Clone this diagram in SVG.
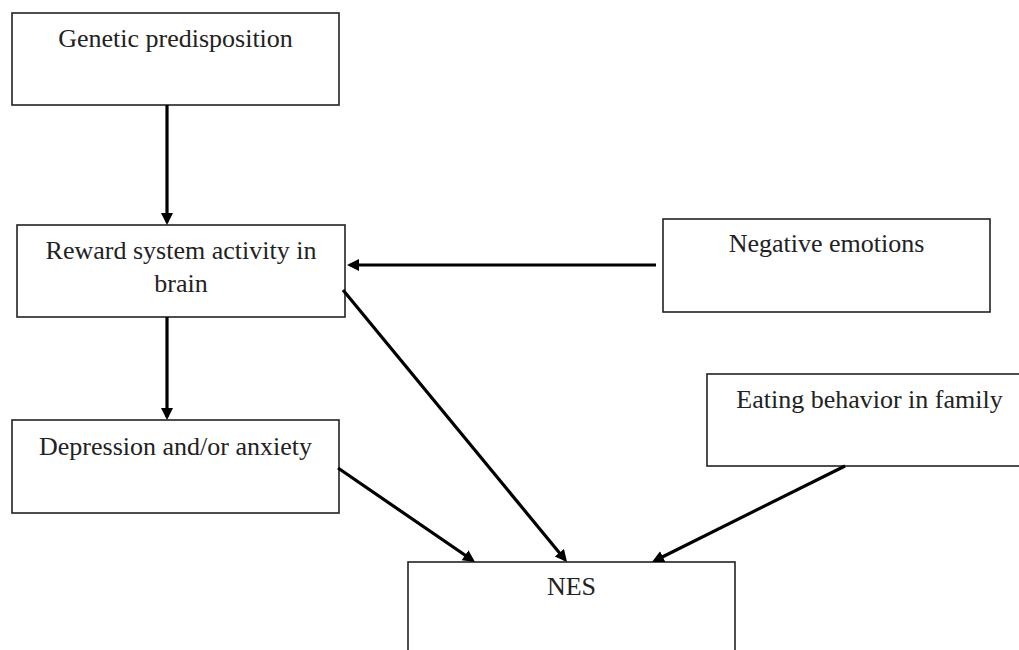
<svg xmlns="http://www.w3.org/2000/svg" width="1019" height="650" viewBox="0 0 1019 650">
  <style>
    .box { fill: #ffffff; stroke: #222222; stroke-width: 1.6; }
    .lbl { font-family: "Liberation Serif", "Times New Roman", serif; font-size: 26px; fill: #222222; text-anchor: middle; }
    .con { stroke: #000000; stroke-width: 3.2; fill: none; marker-end: url(#arrow); }
  </style>
  <defs>
    <marker id="arrow" markerUnits="userSpaceOnUse" markerWidth="13" markerHeight="13" refX="9" refY="6" orient="auto">
      <path d="M0,0 L12,6 L0,12 z" fill="#000000"/>
    </marker>
  </defs>
  <rect width="1019" height="650" fill="#ffffff"/>

  <g id="node-genetic">
    <rect class="box" x="12" y="13" width="327" height="92"/>
    <text class="lbl" x="175.5" y="47">Genetic predisposition</text>
  </g>
  <g id="node-reward">
    <rect class="box" x="17" y="225" width="328" height="92"/>
    <text class="lbl" x="181" y="259">Reward system activity in</text>
    <text class="lbl" x="181" y="292">brain</text>
  </g>
  <g id="node-depression">
    <rect class="box" x="12" y="420" width="327" height="93"/>
    <text class="lbl" x="175.5" y="455">Depression and/or anxiety</text>
  </g>
  <g id="node-negative">
    <rect class="box" x="663" y="219" width="327" height="93"/>
    <text class="lbl" x="826.5" y="252">Negative emotions</text>
  </g>
  <g id="node-eating">
    <rect class="box" x="707" y="374" width="325" height="92"/>
    <text class="lbl" x="869.5" y="408">Eating behavior in family</text>
  </g>
  <g id="node-nes">
    <rect class="box" x="408" y="562" width="327" height="100"/>
    <text class="lbl" x="571.5" y="595">NES</text>
  </g>

  <g id="connectors">
    <path class="con" d="M167,105 L167,222"/>
    <path class="con" d="M167,317 L167,417"/>
    <path class="con" d="M656,265 L350,265"/>
    <path class="con" d="M343,290 L565.1,559.7"/>
    <path class="con" d="M338,468 L472.5,560.3"/>
    <path class="con" d="M845,466 L654.7,560.7"/>
  </g>
</svg>
